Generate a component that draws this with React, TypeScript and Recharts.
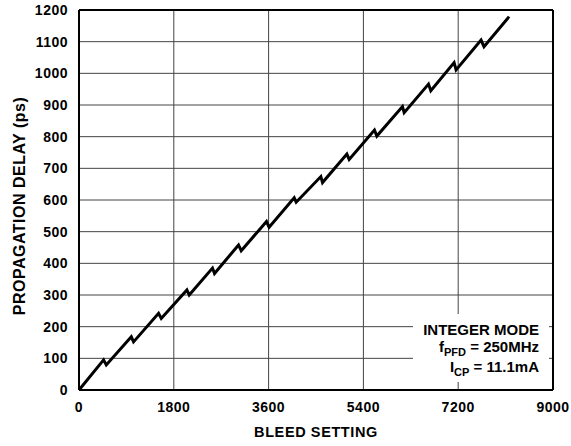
import React from "react";
import {
  LineChart,
  CartesianGrid,
  XAxis,
  YAxis,
  Line,
  ReferenceLine,
} from "recharts";

// readings: each tooth is a peak followed by a small drop
const bleedSetting = [
  0, 467, 518, 993, 1036, 1511, 1562, 2049, 2093, 2535, 2573, 3029, 3080,
  3560, 3610, 4086, 4124, 4592, 4624, 5086, 5130, 5610, 5655, 6142, 6174,
  6636, 6680, 7122, 7160, 7634, 7690, 8166,
];
const propDelay = [
  0, 95, 79, 168, 152, 242, 226, 316, 300, 385, 368, 458, 440, 532, 514, 607,
  593, 674, 655, 745, 728, 821, 802, 895, 876, 966, 945, 1034, 1011, 1105,
  1084, 1179,
];

const xTicks = [0, 1800, 3600, 5400, 7200, 9000];
const yTicks = [0, 100, 200, 300, 400, 500, 600, 700, 800, 900, 1000, 1100, 1200];

const notes = {
  mode: "INTEGER MODE",
  fpfd: "250MHz",
  icp: "11.1mA",
};

const data = bleedSetting.map((x, i) => ({ x, y: propDelay[i] }));

const FONT = '"Liberation Sans", Arial, Helvetica, sans-serif';
const tickStyle = {
  fontSize: 14,
  fontWeight: 700,
  fill: "#000",
  fontFamily: FONT,
  letterSpacing: 0.5,
};

const YTitle = (props: any) => {
  const vb = props.viewBox;
  const cy = vb.y + vb.height / 2 + 6;
  return (
    <text
      x={25}
      y={cy}
      transform={`rotate(-90, 25, ${cy})`}
      textAnchor="middle"
      style={{ fontSize: 16, fontWeight: 700, fontFamily: FONT, letterSpacing: 0.5 }}
      fill="#000"
    >
      PROPAGATION DELAY (ps)
    </text>
  );
};

const XTitle = (props: any) => {
  const vb = props.viewBox;
  return (
    <text
      x={vb.x + vb.width / 2}
      y={437}
      textAnchor="middle"
      style={{ fontSize: 14.5, fontWeight: 700, fontFamily: FONT, letterSpacing: 0.6 }}
      fill="#000"
    >
      BLEED SETTING
    </text>
  );
};

const App = () => {
  return (
    <div style={{ position: "absolute", left: 0, top: 0, width: 571, height: 446, background: "#fff" }}>
      <LineChart
        width={571}
        height={446}
        data={data}
        margin={{ top: 10, right: 18, bottom: 26, left: 19 }}
      >
        <CartesianGrid stroke="#444" strokeWidth={1} />
        <XAxis
          dataKey="x"
          type="number"
          domain={[0, 9000]}
          ticks={xTicks}
          tickLine={false}
          tickSize={9}
          tickMargin={3}
          height={30}
          axisLine={{ stroke: "#000", strokeWidth: 2 }}
          tick={tickStyle}
          label={<XTitle />}
        />
        <YAxis
          type="number"
          domain={[0, 1200]}
          ticks={yTicks}
          tickLine={false}
          tickSize={9}
          tickMargin={2}
          width={60}
          axisLine={{ stroke: "#000", strokeWidth: 2 }}
          tick={tickStyle}
          label={<YTitle />}
        />
        <ReferenceLine y={1200} stroke="#000" strokeWidth={2} />
        <ReferenceLine x={9000} stroke="#000" strokeWidth={2} />
        <Line
          type="linear"
          dataKey="y"
          stroke="#000"
          strokeWidth={3}
          dot={false}
          isAnimationActive={false}
        />
      </LineChart>
      <div
        style={{
          position: "absolute",
          left: 413,
          top: 314,
          width: 136,
          height: 68,
          background: "#fff",
          fontFamily: FONT,
          fontWeight: 700,
          fontSize: 15,
          color: "#000",
          textAlign: "right",
          boxSizing: "border-box",
          paddingRight: 10,
          paddingTop: 7,
          lineHeight: "17px",
        }}
      >
        <div>{notes.mode}</div>
        <div>
          f<sub style={{ fontSize: 11, verticalAlign: "-4px", lineHeight: 0 }}>PFD</sub> = {notes.fpfd}
        </div>
        <div style={{ marginTop: 3 }}>
          I<sub style={{ fontSize: 11, verticalAlign: "-4px", lineHeight: 0 }}>CP</sub> = {notes.icp}
        </div>
      </div>
    </div>
  );
};

export default App;
